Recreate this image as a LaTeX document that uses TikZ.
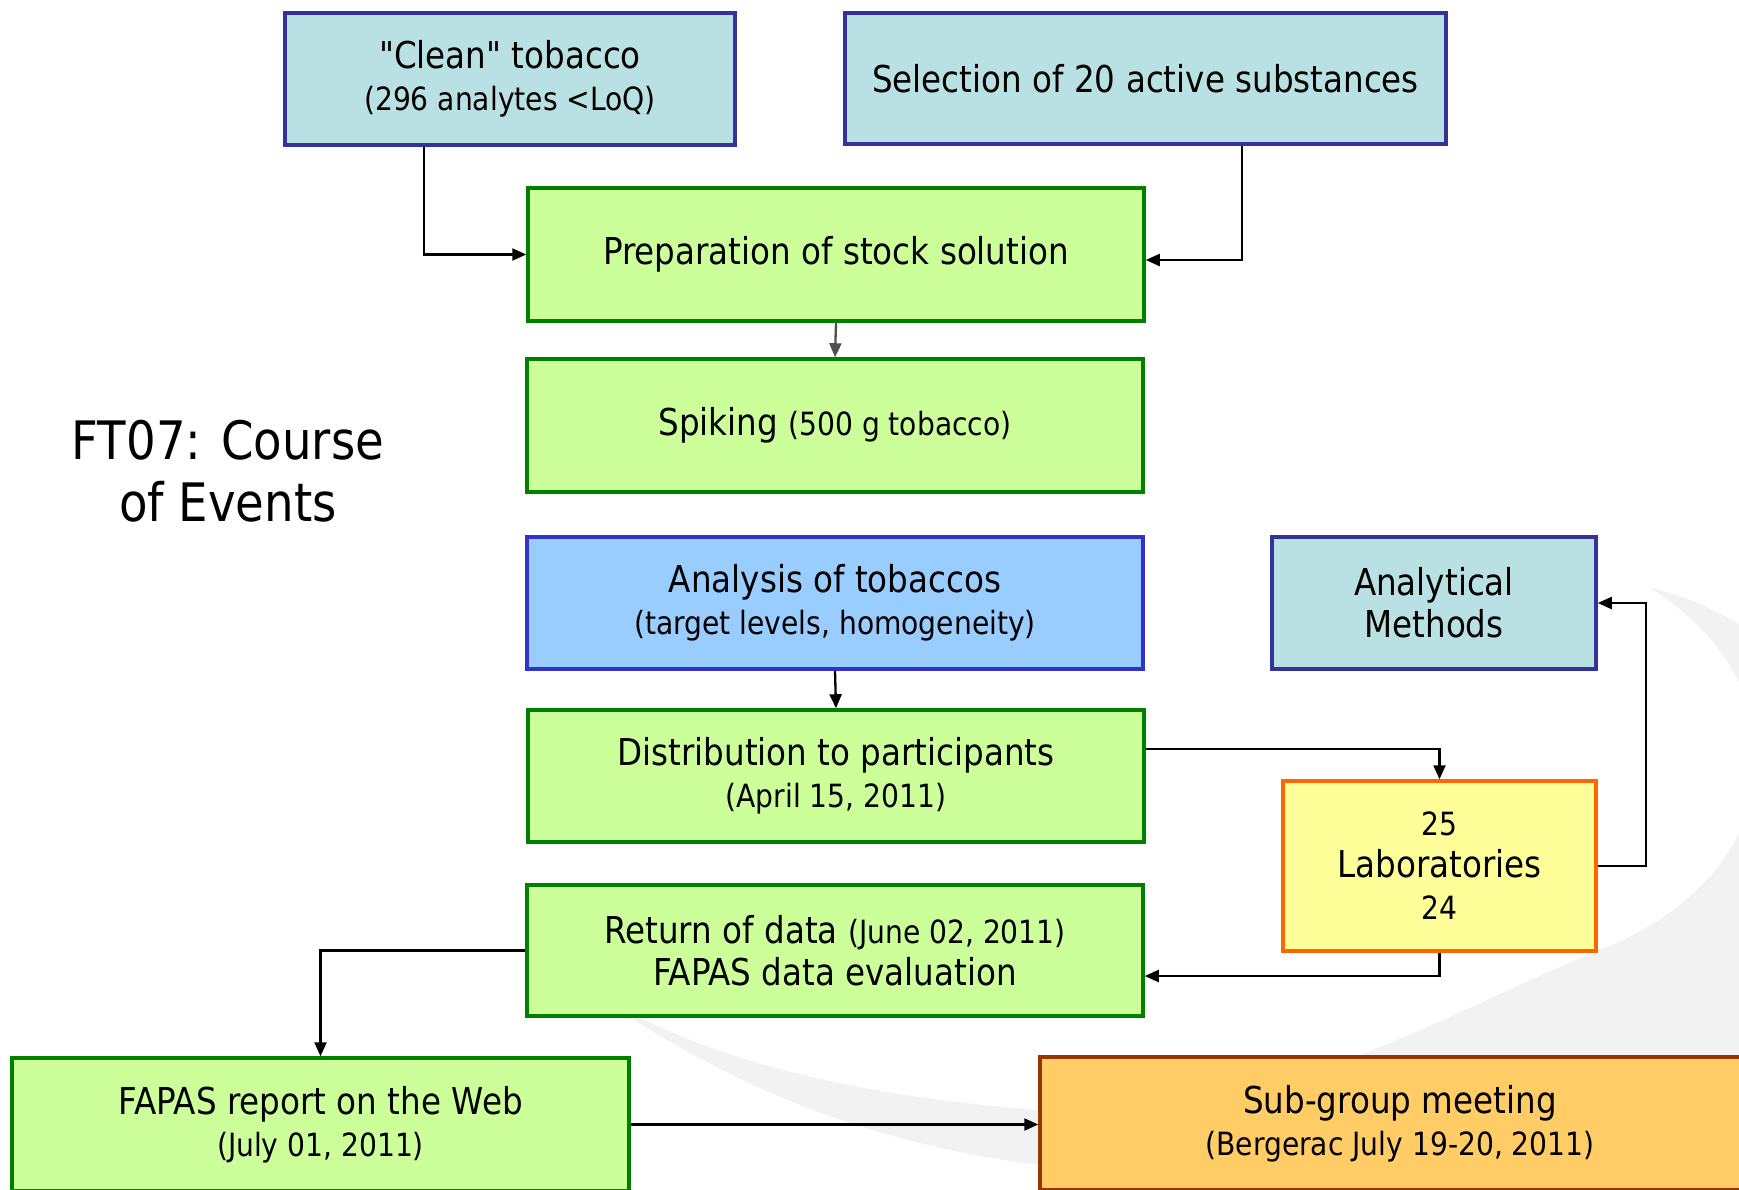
\documentclass[tikz,border=0pt]{standalone}
\usepackage{fontspec}
\setmainfont{DejaVu Sans}[FakeStretch=0.88, Ligatures=TeXOff]
\usetikzlibrary{arrows.meta}
\definecolor{boxcyan}{HTML}{B9E0E3}
\definecolor{boxblue}{HTML}{333399}
\definecolor{lightgreen}{HTML}{CCFF99}
\definecolor{boxgreen}{HTML}{007F00}
\definecolor{anafill}{HTML}{99CCFF}
\definecolor{anaborder}{HTML}{3333CC}
\definecolor{labfill}{HTML}{FFFF99}
\definecolor{laborder}{HTML}{FF6600}
\definecolor{subfill}{HTML}{FFCC66}
\definecolor{subborder}{HTML}{993300}
\definecolor{arrowgray}{HTML}{505050}
\definecolor{swooshgray}{HTML}{F2F2F2}
\newcommand{\sm}[1]{{\fontsize{32}{42}\selectfont #1}}
\tikzset{
  basebox/.style={rectangle, draw, line width=3.5pt, inner sep=0pt, align=center,
    font=\fontsize{37}{42}\selectfont, text=black},
  cyanbox/.style={basebox, draw=boxblue, fill=boxcyan},
  greenbox/.style={basebox, draw=boxgreen, fill=lightgreen},
  anabox/.style={basebox, draw=anaborder, fill=anafill},
  labbox/.style={basebox, draw=laborder, fill=labfill},
  subbox/.style={basebox, draw=subborder, fill=subfill},
  conn/.style={line width=2.3pt, draw=black, -{Triangle[length=14pt,width=12pt]}},
  titletext/.style={align=center, font=\fontsize{53}{62}\selectfont, inner sep=0pt}
}
\begin{document}
\begin{tikzpicture}[x=1pt, y=-1pt]
\useasboundingbox (0,0) rectangle (1739,1189);
\clip (0,0) rectangle (1739,1189);
\fill[white] (0,0) rectangle (1739,1189);
% background swoosh
\fill[swooshgray] (1650,588) .. controls (1800,620) and (1950,800) .. (1900,1000)
  .. controls (1850,1200) and (1300,1250) .. (1038,1165)
  .. controls (850,1140) and (720,1080) .. (580,985)
  .. controls (700,1060) and (850,1095) .. (1038,1110)
  .. controls (1250,1135) and (1450,1010) .. (1600,950)
  .. controls (1800,870) and (1800,680) .. (1650,588) -- cycle;

% title
\node[titletext] (title) at (228,471) {FT07: Course\\of Events};

% boxes
\node[cyanbox, minimum width=450pt, minimum height=132pt] (clean) at (510,79)
  {"Clean" tobacco\\\sm{(296 analytes <LoQ)}};
\node[cyanbox, minimum width=601pt, minimum height=131pt] (sel) at (1145.5,78.5)
  {Selection of 20 active substances};
\node[greenbox, minimum width=616pt, minimum height=133pt] (prep) at (836,254.5)
  {Preparation of stock solution};
\node[greenbox, minimum width=616pt, minimum height=133pt] (spik) at (835,425.5)
  {Spiking \sm{(500 g tobacco)}};
\node[anabox, minimum width=616pt, minimum height=132pt] (anal) at (835,603)
  {Analysis of tobaccos\\\sm{(target levels, homogeneity)}};
\node[greenbox, minimum width=616pt, minimum height=132pt] (dist) at (836,776)
  {Distribution to participants\\\sm{(April 15, 2011)}};
\node[greenbox, minimum width=616pt, minimum height=131pt] (ret) at (835,950.5)
  {Return of data \sm{(June 02, 2011)}\\FAPAS data evaluation};
\node[cyanbox, minimum width=324pt, minimum height=132pt] (meth) at (1434,603)
  {Analytical\\Methods};
\node[labbox, minimum width=313pt, minimum height=170pt] (lab) at (1439.5,866)
  {\sm{25}\\Laboratories\\\sm{24}};
\node[greenbox, minimum width=617pt, minimum height=133pt] (fapas) at (320.5,1124.5)
  {FAPAS report on the Web\\\sm{(July 01, 2011)}};
\node[subbox, minimum width=720pt, minimum height=133pt] (sub) at (1400,1123.5)
  {Sub-group meeting\\\sm{(Bergerac July 19-20, 2011)}};

% connectors
\draw[conn] ([xshift=-86pt]clean.south) |- (prep.west);
\draw[conn] ([xshift=96.5pt]sel.south) |- ([yshift=-5.5pt]prep.east);
\draw[conn, draw=arrowgray, -{Triangle[length=14pt,width=12pt,fill=arrowgray]}] (prep.south) -- (spik.north);
\draw[conn] (anal.south) -- (dist.north);
\draw[conn] ([yshift=27pt]dist.east) -| (lab.north);
\draw[conn] (lab.east) -- ++(48,0) |- (meth.east);
\draw[conn] (lab.south) |- ([yshift=-25.5pt]ret.east);
\draw[conn] (ret.west) -| (fapas.north);
\draw[conn] (fapas.east) -- (fapas.east -| sub.west);
\end{tikzpicture}
\end{document}
